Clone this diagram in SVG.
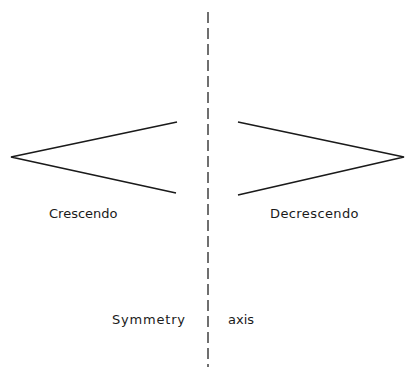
<svg xmlns="http://www.w3.org/2000/svg" width="405" height="367" viewBox="0 0 405 367">
<style>
.ln{fill:none;stroke:#1a1a1a;stroke-width:1.7;stroke-linejoin:miter}
.ax{fill:none;stroke:#333;stroke-width:1.4;stroke-dasharray:11 5}
.t{font-family:"DejaVu Sans",sans-serif;font-size:13px;fill:#1a1a1a}
</style>
<rect width="405" height="367" fill="#fff"/>
<g id="connectors">
<line id="axis-line" class="ax" x1="208" y1="12" x2="208" y2="367"/>
</g>
<g id="crescendo">
<polyline class="ln" points="177,122 11,157 176,193"/>
<text class="t" x="49" y="218">Crescendo</text>
</g>
<g id="decrescendo">
<polyline class="ln" points="238,122 404,157 238,195"/>
<text class="t" x="270" y="218" letter-spacing="0.4">Decrescendo</text>
</g>
<g id="symmetry-axis">
<text class="t" x="112" y="324" letter-spacing="0.8">Symmetry</text>
<text class="t" x="228" y="324">axis</text>
</g>
</svg>
